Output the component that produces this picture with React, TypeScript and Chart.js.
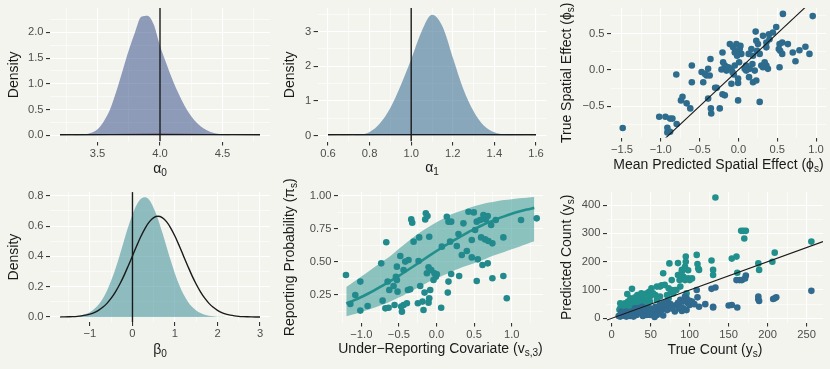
import React, { useEffect, useRef } from 'react';
import { Chart, registerables } from 'chart.js';

Chart.register(...registerables);

const BG = '#F4F4EF';
const FONT = '"Liberation Sans", Arial, Helvetica, sans-serif';
const TICK_TEXT = '#4D4D4D';
const TITLE_TEXT = '#1A1A1A';
const LINE_BLACK = '#1A1A1A';

// ---------- Panel 1: alpha_0 posterior density ----------
const alpha0Grid = [3.2, 3.25, 3.3, 3.35, 3.4, 3.45, 3.5, 3.55, 3.6, 3.65, 3.7, 3.75, 3.8, 3.85, 3.9, 3.95, 4.0, 4.05, 4.1, 4.15, 4.2, 4.25, 4.3, 4.35, 4.4, 4.45, 4.5, 4.55, 4.6, 4.65, 4.7, 4.75, 4.8];
const alpha0Posterior = [0, 0, 0.002, 0.005, 0.02, 0.05, 0.12, 0.27, 0.5, 0.85, 1.25, 1.65, 2.0, 2.3, 2.32, 2.15, 1.74, 1.4, 1.08, 0.8, 0.56, 0.37, 0.23, 0.13, 0.07, 0.035, 0.015, 0.006, 0.002, 0, 0, 0, 0];
const alpha0PriorX = [3.2, 3.6, 4.0, 4.4, 4.8];
const alpha0PriorY = [0.012, 0.014, 0.015, 0.014, 0.012];
const alpha0True = 4.0;
const p1XTicks = [3.5, 4.0, 4.5];
const p1XLabels = ['3.5', '4.0', '4.5'];
const p1XMinor = [3.25, 3.75, 4.25, 4.75];
const p1YTicks = [0, 0.5, 1, 1.5, 2];
const p1YLabels = ['0.0', '0.5', '1.0', '1.5', '2.0'];
const p1YMinor = [0.25, 0.75, 1.25, 1.75, 2.25];

// ---------- Panel 2: alpha_1 posterior density ----------
const alpha1Grid = [0.6, 0.65, 0.7, 0.75, 0.8, 0.85, 0.9, 0.95, 1.0, 1.05, 1.1, 1.15, 1.2, 1.25, 1.3, 1.35, 1.4, 1.45, 1.5, 1.55, 1.6];
const alpha1Posterior = [0, 0.001, 0.005, 0.02, 0.1, 0.35, 0.8, 1.45, 2.2, 3.0, 3.48, 3.15, 2.25, 1.35, 0.7, 0.28, 0.09, 0.025, 0.005, 0.001, 0];
const alpha1PriorX = [0.6, 0.85, 1.1, 1.35, 1.6];
const alpha1PriorY = [0.02, 0.022, 0.023, 0.022, 0.02];
const alpha1True = 1.0;
const p2XTicks = [0.6, 0.8, 1.0, 1.2, 1.4, 1.6];
const p2XLabels = ['0.6', '0.8', '1.0', '1.2', '1.4', '1.6'];
const p2XMinor = [0.7, 0.9, 1.1, 1.3, 1.5];
const p2YTicks = [0, 1, 2, 3];
const p2YLabels = ['0', '1', '2', '3'];
const p2YMinor = [0.5, 1.5, 2.5, 3.5];

// ---------- Panel 3: spatial effect scatter ----------
const phiPredicted = [-1.49, -1.02, -0.94, -0.88, -0.85, -0.915, -0.88, -0.915, -0.795, -0.8, -0.74, -0.72, -0.667, -0.62, -0.6, -0.6, -0.474, -0.453, -0.43, -0.41, -0.39, -0.37, -0.39, -0.36, -0.355, -0.35, -0.3, -0.28, -0.24, -0.205, -0.175, -0.205, -0.197, -0.218, -0.175, -0.154, -0.11, -0.09, -0.077, -0.06, -0.047, -0.068, -0.047, -0.026, -0.017, -0.004, -0.004, -0.004, 0.009, 0.017, 0.026, 0.038, -0.017, 0.1, 0.1, 0.137, 0.145, 0.132, 0.167, 0.188, 0.188, 0.21, 0.23, 0.222, 0.23, 0.24, 0.252, 0.274, 0.274, 0.295, 0.316, 0.316, 0.36, 0.36, 0.338, 0.36, 0.38, 0.393, 0.4, 0.444, 0.487, 0.52, 0.53, 0.538, 0.53, 0.564, 0.564, 0.573, 0.637, 0.7, 0.735, 0.786, 0.863, 0.915, 0.957, 0.18, 0.08, -0.09, -0.13];
const phiTrue = [-0.8, -0.645, -0.645, -0.67, -0.67, -0.795, -0.85, -0.86, -0.745, -0.064, -0.42, -0.37, -0.46, -0.53, 0.06, -0.17, -0.03, -0.17, -0.055, -0.077, 0.014, -0.077, -0.395, 0.15, -0.53, -0.6, -0.245, -0.245, -0.53, -0.336, -0.35, 0.24, 0.105, 0.005, 0.06, -0.01, 0.355, 0.014, -0.03, -0.064, 0.06, 0.31, 0.24, 0.355, 0.264, -0.12, -0.18, -0.42, 0.105, 0.286, 0.33, 0.22, 0.195, 0.06, -0.01, -0.1, 0.014, 0.22, 0.286, 0.195, -0.17, -0.01, -0.145, 0.527, 0.4, 0.264, 0.355, 0.22, -0.44, 0.06, 0.036, 0.468, 0.377, 0.31, 0.105, 0.06, 0.014, 0.49, 0.42, 0.514, 0.59, 0.286, 0.355, 0.264, 0.036, 0.377, 0.22, 0.77, 0.355, 0.24, 0.118, 0.27, 0.318, 0.22, 0.74, 0.08, 0.014, -0.19, 0.036];
const p3XTicks = [-1.5, -1.0, -0.5, 0, 0.5, 1.0];
const p3XLabels = ['\u22121.5', '\u22121.0', '\u22120.5', '0.0', '0.5', '1.0'];
const p3XMinor = [-1.25, -0.75, -0.25, 0.25, 0.75];
const p3YTicks = [-0.5, 0, 0.5];
const p3YLabels = ['\u22120.5', '0.0', '0.5'];
const p3YMinor = [-0.75, -0.25, 0.25, 0.75];

// ---------- Panel 4: beta_0 posterior and prior ----------
const beta0Grid = [-1.7, -1.6, -1.5, -1.4, -1.3, -1.2, -1.1, -1.0, -0.9, -0.8, -0.7, -0.6, -0.5, -0.4, -0.3, -0.2, -0.1, 0.0, 0.1, 0.2, 0.3, 0.4, 0.5, 0.6, 0.7, 0.8, 0.9, 1.0, 1.1, 1.2, 1.3, 1.4, 1.5, 1.6, 1.7, 1.8, 1.9, 2.0, 2.1, 2.2, 2.3, 2.4, 2.5, 2.6, 2.7, 2.8, 2.9, 3.0];
const beta0Posterior = [0.0004, 0.0008, 0.0016, 0.003, 0.006, 0.011, 0.019, 0.032, 0.052, 0.08, 0.12, 0.173, 0.24, 0.319, 0.408, 0.503, 0.595, 0.677, 0.741, 0.78, 0.79, 0.77, 0.718, 0.647, 0.559, 0.465, 0.372, 0.286, 0.211, 0.15, 0.103, 0.067, 0.043, 0.026, 0.015, 0.0085, 0.0046, 0.0024, 0.0012, 0.0005, 0.0002, 0, 0, 0, 0, 0, 0, 0];
const beta0Prior = [0.0004, 0.0008, 0.0015, 0.0026, 0.0044, 0.0074, 0.012, 0.019, 0.029, 0.044, 0.064, 0.09, 0.124, 0.166, 0.216, 0.273, 0.337, 0.403, 0.47, 0.533, 0.587, 0.629, 0.656, 0.665, 0.656, 0.629, 0.587, 0.533, 0.47, 0.403, 0.337, 0.273, 0.216, 0.166, 0.124, 0.09, 0.064, 0.044, 0.029, 0.019, 0.012, 0.0074, 0.0044, 0.0026, 0.0015, 0.0008, 0.0004, 0.0002];
const beta0True = 0;
const p4XTicks = [-1, 0, 1, 2, 3];
const p4XLabels = ['\u22121', '0', '1', '2', '3'];
const p4XMinor = [-1.5, -0.5, 0.5, 1.5, 2.5];
const p4YTicks = [0, 0.2, 0.4, 0.6, 0.8];
const p4YLabels = ['0.0', '0.2', '0.4', '0.6', '0.8'];
const p4YMinor = [0.1, 0.3, 0.5, 0.7];

// ---------- Panel 5: reporting probability ----------
const covGrid = [-1.2, -1.1, -1.0, -0.9, -0.8, -0.7, -0.6, -0.5, -0.4, -0.3, -0.2, -0.1, 0.0, 0.1, 0.2, 0.3, 0.4, 0.5, 0.6, 0.7, 0.8, 0.9, 1.0, 1.1, 1.2, 1.3];
const piMean = [0.185, 0.209, 0.235, 0.263, 0.294, 0.326, 0.36, 0.395, 0.432, 0.469, 0.507, 0.545, 0.582, 0.618, 0.653, 0.686, 0.718, 0.747, 0.775, 0.8, 0.823, 0.844, 0.863, 0.88, 0.895, 0.908];
const piLower = [0.09, 0.105, 0.12, 0.14, 0.16, 0.18, 0.205, 0.23, 0.26, 0.29, 0.32, 0.35, 0.375, 0.4, 0.425, 0.45, 0.47, 0.49, 0.51, 0.535, 0.555, 0.575, 0.595, 0.615, 0.635, 0.655];
const piUpper = [0.31, 0.35, 0.39, 0.43, 0.47, 0.51, 0.55, 0.6, 0.645, 0.69, 0.73, 0.765, 0.8, 0.83, 0.86, 0.88, 0.9, 0.92, 0.935, 0.948, 0.958, 0.967, 0.974, 0.98, 0.985, 0.99];
const covPoints = [-1.204, -1.146, -1.08, -1.013, -1.013, -0.916, -0.735, -0.717, -0.668, -0.68, -0.637, -0.65, -0.628, -0.558, -0.54, -0.527, -0.527, -0.518, -0.482, -0.469, -0.46, -0.438, -0.438, -0.416, -0.394, -0.38, -0.35, -0.336, -0.323, -0.305, -0.372, -0.248, -0.239, -0.23, -0.217, -0.173, -0.159, -0.15, -0.142, -0.12, -0.128, -0.106, -0.097, -0.097, -0.106, -0.084, -0.07, -0.04, -0.027, -0.009, 0.004, 0.071, 0.062, 0.137, 0.15, 0.159, 0.159, 0.195, 0.181, 0.195, 0.27, 0.292, 0.301, 0.358, 0.336, 0.403, 0.425, 0.469, 0.469, 0.496, 0.535, 0.513, 0.549, 0.535, 0.58, 0.593, 0.611, 0.624, 0.646, 0.655, 0.681, 0.69, 0.681, 0.726, 0.743, 0.743, 0.788, 0.889, 0.889, 0.934, 1.124, 1.332, -0.571, -0.186];
const piPoints = [0.401, 0.182, 0.25, 0.351, 0.132, 0.167, 0.489, 0.207, 0.648, 0.149, 0.154, 0.351, 0.288, 0.174, 0.388, 0.464, 0.363, 0.275, 0.544, 0.162, 0.124, 0.439, 0.174, 0.502, 0.187, 0.288, 0.293, 0.821, 0.796, 0.653, 0.514, 0.187, 0.507, 0.685, 0.318, 0.137, 0.268, 0.821, 0.867, 0.846, 0.414, 0.459, 0.69, 0.225, 0.192, 0.288, 0.439, 0.363, 0.414, 0.388, 0.406, 0.615, 0.154, 0.841, 0.268, 0.351, 0.804, 0.804, 0.653, 0.408, 0.62, 0.711, 0.393, 0.791, 0.552, 0.582, 0.879, 0.665, 0.534, 0.874, 0.804, 0.741, 0.519, 0.356, 0.816, 0.685, 0.476, 0.854, 0.67, 0.821, 0.846, 0.658, 0.489, 0.779, 0.64, 0.376, 0.816, 0.685, 0.393, 0.225, 0.816, 0.829, 0.318, 0.2];
const p5XTicks = [-1.0, -0.5, 0, 0.5, 1.0];
const p5XLabels = ['\u22121.0', '\u22120.5', '0.0', '0.5', '1.0'];
const p5XMinor = [-1.25, -0.75, -0.25, 0.25, 0.75, 1.25];
const p5YTicks = [0.25, 0.5, 0.75, 1.0];
const p5YLabels = ['0.25', '0.50', '0.75', '1.00'];
const p5YMinor = [0.125, 0.375, 0.625, 0.875];

// ---------- Panel 6: counts ----------
const trueCountA = [133, 166, 169, 172, 170, 256, 209, 206, 188, 189, 160, 154, 161, 128, 130, 130, 109, 110, 112, 95, 95, 85, 74, 90, 85, 77, 92, 94, 98, 100, 103, 66, 68, 58, 51, 48, 45, 41, 36, 33, 30, 26, 28, 24, 21, 17, 13, 11, 11, 15, 19, 26, 32, 39, 43, 49, 56, 62, 76, 81, 88, 79, 96, 49, 28, 34, 24, 45, 58, 73, 20, 64, 73, 77, 83, 87, 90, 94, 98, 111, 62, 53, 38, 30, 34, 43, 23, 10, 15, 71];
const predCountA = [427, 309, 309, 309, 282, 271, 232, 200, 194, 171, 218, 211, 161, 204, 171, 153, 224, 192, 171, 218, 200, 195, 194, 171, 153, 135, 147, 135, 141, 135, 141, 159, 118, 112, 106, 94, 88, 82, 77, 82, 74, 104, 65, 71, 59, 53, 47, 53, 35, 35, 41, 47, 53, 59, 65, 77, 82, 77, 94, 100, 112, 88, 88, 59, 41, 41, 29, 47, 65, 71, 86, 117, 106, 100, 100, 135, 165, 182, 170, 176, 112, 88, 88, 59, 65, 53, 47, 30, 45, 82];
const trueCountB = [256, 211, 209, 207, 188, 188, 189, 172, 171, 167, 164, 160, 154, 161, 130, 130, 133, 128, 112, 109, 110, 103, 100, 96, 92, 90, 96, 98, 88, 83, 86, 79, 75, 73, 68, 64, 62, 58, 53, 51, 47, 45, 41, 39, 36, 32, 28, 26, 24, 21, 19, 17, 14, 11, 9, 30, 34, 39, 43, 49, 56, 62, 66, 71, 92, 94, 34, 43, 49, 19, 28, 12, 58, 71, 81, 77, 85, 100, 106, 120, 88, 150, 40, 55, 66, 22];
const predCountB = [97, 74, 71, 68, 77, 67, 61, 151, 141, 135, 135, 135, 47, 38, 41, 38, 109, 104, 41, 100, 74, 59, 47, 29, 35, 26, 71, 53, 65, 47, 35, 44, 51, 35, 41, 29, 20, 29, 18, 24, 24, 12, 18, 29, 18, 12, 18, 24, 8, 18, 24, 8, 12, 6, 8, 35, 35, 41, 35, 35, 41, 47, 53, 59, 59, 77, 24, 20, 12, 6, 6, 24, 12, 29, 24, 35, 55, 62, 50, 50, 40, 45, 8, 5, 10, 12];
const p6XTicks = [0, 50, 100, 150, 200, 250];
const p6XLabels = ['0', '50', '100', '150', '200', '250'];
const p6XMinor = [25, 75, 125, 175, 225];
const p6YTicks = [0, 100, 200, 300, 400];
const p6YLabels = ['0', '100', '200', '300', '400'];
const p6YMinor = [50, 150, 250, 350];

// ---------- helpers ----------
type Seg = { t: string; sub?: boolean };
type AxisSpec = { min: number; max: number; majors: number[]; labels: string[]; minors: number[] };
type Box = { left: number; top: number; w: number; h: number };
type Area = { l: number; r: number; t: number; b: number };

const zip = (xs: number[], ys: number[]) => xs.map((x, i) => ({ x, y: ys[i] }));

function axis(kind: 'x' | 'y', a: AxisSpec, size: number) {
  const isMajor = (v: number) => a.majors.some((m) => Math.abs(m - v) < 1e-9);
  return {
    type: 'linear',
    position: kind === 'x' ? 'bottom' : 'left',
    min: a.min,
    max: a.max,
    afterBuildTicks: (s: any) => {
      s.ticks = [...a.majors, ...a.minors].sort((p, q) => p - q).map((v) => ({ value: v }));
    },
    afterFit: (s: any) => {
      if (kind === 'x') s.height = size;
      else s.width = size;
    },
    ticks: {
      autoSkip: false,
      maxRotation: 0,
      minRotation: 0,
      padding: 2.5,
      color: TICK_TEXT,
      font: { family: FONT, size: 11.2, lineHeight: 1 },
      callback: (v: number) => {
        const i = a.majors.findIndex((m) => Math.abs(m - v) < 1e-9);
        return i >= 0 ? a.labels[i] : '';
      },
    },
    grid: {
      drawOnChartArea: true,
      drawTicks: true,
      tickLength: 4,
      color: '#FFFFFF',
      lineWidth: (c: any) => (c.tick && isMajor(c.tick.value) ? 1.1 : 0.55),
      tickColor: (c: any) => (c.tick && isMajor(c.tick.value) ? '#333333' : 'rgba(0,0,0,0)'),
      tickWidth: 1.1,
    },
    border: { display: false },
    title: { display: false },
  };
}

function titlePlugin(xSegs: Seg[], xBaseline: number, ySegs: Seg[], yBaseline: number) {
  const size = 14;
  const draw = (ctx: CanvasRenderingContext2D, segs: Seg[], px: number, py: number, rotate: boolean) => {
    ctx.save();
    ctx.translate(px, py);
    if (rotate) ctx.rotate(-Math.PI / 2);
    ctx.textAlign = 'left';
    ctx.textBaseline = 'alphabetic';
    ctx.fillStyle = TITLE_TEXT;
    const widths = segs.map((s) => {
      ctx.font = `${s.sub ? size * 0.72 : size}px ${FONT}`;
      return ctx.measureText(s.t).width;
    });
    const total = widths.reduce((p, q) => p + q, 0);
    let x = -total / 2;
    segs.forEach((s, i) => {
      ctx.font = `${s.sub ? size * 0.72 : size}px ${FONT}`;
      ctx.fillText(s.t, x, s.sub ? size * 0.24 : 0);
      x += widths[i];
    });
    ctx.restore();
  };
  return {
    id: 'richTitles',
    afterDraw(chart: any) {
      const { ctx, chartArea } = chart;
      draw(ctx, xSegs, (chartArea.left + chartArea.right) / 2, xBaseline, false);
      draw(ctx, ySegs, yBaseline, (chartArea.top + chartArea.bottom) / 2, true);
    },
  };
}

type PanelSpec = {
  box: Box;
  area: Area;
  x: AxisSpec;
  y: AxisSpec;
  datasets: any[];
  xTitle: Seg[];
  xTitleBaseline: number;
  yTitle: Seg[];
  yTitleBaseline: number;
};

function buildConfig(p: PanelSpec) {
  const yWidth = p.area.l - p.box.left;
  const xHeight = p.box.top + p.box.h - p.area.b;
  return {
    type: 'scatter',
    data: { datasets: p.datasets },
    options: {
      animation: false,
      responsive: false,
      maintainAspectRatio: false,
      devicePixelRatio: 1,
      events: [],
      layout: {
        padding: {
          left: 0,
          bottom: 0,
          top: p.area.t - p.box.top,
          right: p.box.left + p.box.w - p.area.r,
        },
      },
      plugins: { legend: { display: false }, tooltip: { enabled: false } },
      scales: { x: axis('x', p.x, xHeight), y: axis('y', p.y, yWidth) },
    },
    plugins: [titlePlugin(p.xTitle, p.xTitleBaseline - p.box.top, p.yTitle, p.yTitleBaseline - p.box.left)],
  };
}

const lineDs = (data: any[], color: string, width: number, extra: any = {}) => ({
  type: 'line',
  data,
  borderColor: color,
  borderWidth: width,
  pointRadius: 0,
  fill: false,
  ...extra,
});
const pointDs = (data: any[], color: string) => ({
  type: 'scatter',
  data,
  backgroundColor: color,
  borderColor: color,
  borderWidth: 0,
  pointRadius: 3.3,
  showLine: false,
});
const densityDs = (data: any[], color: string) => ({
  type: 'line',
  data,
  backgroundColor: color,
  borderColor: 'rgba(0,0,0,0)',
  borderWidth: 0,
  pointRadius: 0,
  fill: 'origin',
  cubicInterpolationMode: 'monotone',
});

const p1x: AxisSpec = { min: 3.12, max: 4.88, majors: p1XTicks, labels: p1XLabels, minors: p1XMinor };
const p1y: AxisSpec = { min: -0.12, max: 2.47, majors: p1YTicks, labels: p1YLabels, minors: p1YMinor };
const p2x: AxisSpec = { min: 0.55, max: 1.65, majors: p2XTicks, labels: p2XLabels, minors: p2XMinor };
const p2y: AxisSpec = { min: -0.175, max: 3.675, majors: p2YTicks, labels: p2YLabels, minors: p2YMinor };
const p3x: AxisSpec = { min: -1.641, max: 1.128, majors: p3XTicks, labels: p3XLabels, minors: p3XMinor };
const p3y: AxisSpec = { min: -0.93, max: 0.85, majors: p3YTicks, labels: p3YLabels, minors: p3YMinor };
const p4x: AxisSpec = { min: -1.94, max: 3.235, majors: p4XTicks, labels: p4XLabels, minors: p4XMinor };
const p4y: AxisSpec = { min: -0.033, max: 0.824, majors: p4YTicks, labels: p4YLabels, minors: p4YMinor };
const p5x: AxisSpec = { min: -1.31, max: 1.416, majors: p5XTicks, labels: p5XLabels, minors: p5XMinor };
const p5y: AxisSpec = { min: 0.042, max: 1.028, majors: p5YTicks, labels: p5YLabels, minors: p5YMinor };
const p6x: AxisSpec = { min: -6.0, max: 270.9, majors: p6XTicks, labels: p6XLabels, minors: p6XMinor };
const p6y: AxisSpec = { min: -14.8, max: 445.9, majors: p6YTicks, labels: p6YLabels, minors: p6YMinor };

const DENSITY: Seg[] = [{ t: 'Density' }];

const panels: PanelSpec[] = [
  {
    box: { left: 0, top: 0, w: 277, h: 184 },
    area: { l: 50, r: 270, t: 7, b: 141.5 },
    x: p1x,
    y: p1y,
    datasets: [
      lineDs([{ x: alpha0True, y: p1y.min }, { x: alpha0True, y: p1y.max }], LINE_BLACK, 1.4),
      lineDs(zip(alpha0PriorX, alpha0PriorY), LINE_BLACK, 1.4),
      densityDs(zip(alpha0Grid, alpha0Posterior), 'rgba(59,82,139,0.55)'),
    ],
    xTitle: [{ t: '\u03B1' }, { t: '0', sub: true }],
    xTitleBaseline: 172.5,
    yTitle: DENSITY,
    yTitleBaseline: 17.5,
  },
  {
    box: { left: 277, top: 0, w: 276, h: 184 },
    area: { l: 317.6, r: 546.4, t: 7, b: 141.5 },
    x: p2x,
    y: p2y,
    datasets: [
      lineDs([{ x: alpha1True, y: p2y.min }, { x: alpha1True, y: p2y.max }], LINE_BLACK, 1.4),
      lineDs(zip(alpha1PriorX, alpha1PriorY), LINE_BLACK, 1.4),
      densityDs(zip(alpha1Grid, alpha1Posterior), 'rgba(49,104,142,0.55)'),
    ],
    xTitle: [{ t: '\u03B1' }, { t: '1', sub: true }],
    xTitleBaseline: 172,
    yTitle: DENSITY,
    yTitleBaseline: 294,
  },
  {
    box: { left: 553, top: 0, w: 277, h: 184 },
    area: { l: 611, r: 827, t: 7, b: 137.5 },
    x: p3x,
    y: p3y,
    datasets: [
      lineDs([{ x: p3x.min, y: p3x.min }, { x: p3x.max, y: p3x.max }], LINE_BLACK, 1.1),
      pointDs(zip(phiPredicted, phiTrue), '#2E6C8E'),
    ],
    xTitle: [{ t: 'Mean Predicted Spatial Effect (' }, { t: '\u03D5' }, { t: 's', sub: true }, { t: ')' }],
    xTitleBaseline: 168.5,
    yTitle: [{ t: 'True Spatial Effect (' }, { t: '\u03D5' }, { t: 's', sub: true }, { t: ')' }],
    yTitleBaseline: 570.7,
  },
  {
    box: { left: 0, top: 184, w: 277, h: 185 },
    area: { l: 50, r: 270, t: 192, b: 322 },
    x: p4x,
    y: p4y,
    datasets: [
      lineDs([{ x: beta0True, y: p4y.min }, { x: beta0True, y: p4y.max }], LINE_BLACK, 1.4),
      lineDs(zip(beta0Grid, beta0Prior), LINE_BLACK, 1.4, { cubicInterpolationMode: 'monotone' }),
      densityDs(zip(beta0Grid, beta0Posterior), 'rgba(38,130,142,0.5)'),
    ],
    xTitle: [{ t: '\u03B2' }, { t: '0', sub: true }],
    xTitleBaseline: 354,
    yTitle: DENSITY,
    yTitleBaseline: 18,
  },
  {
    box: { left: 277, top: 150, w: 276, h: 219 },
    area: { l: 338, r: 543, t: 192, b: 322.5 },
    x: p5x,
    y: p5y,
    datasets: [
      pointDs(zip(covPoints, piPoints), '#228A8D'),
      lineDs(zip(covGrid, piMean), '#21908C', 2.6, { cubicInterpolationMode: 'monotone' }),
      {
        type: 'line',
        data: zip(covGrid, piUpper),
        borderColor: 'rgba(0,0,0,0)',
        borderWidth: 0,
        pointRadius: 0,
        backgroundColor: 'rgba(33,144,140,0.5)',
        fill: '+1',
        cubicInterpolationMode: 'monotone',
      },
      {
        type: 'line',
        data: zip(covGrid, piLower),
        borderColor: 'rgba(0,0,0,0)',
        borderWidth: 0,
        pointRadius: 0,
        fill: false,
        cubicInterpolationMode: 'monotone',
      },
    ],
    xTitle: [{ t: 'Under\u2212Reporting Covariate (' }, { t: 'v' }, { t: 's,3', sub: true }, { t: ')' }],
    xTitleBaseline: 353,
    yTitle: [{ t: 'Reporting Probability (' }, { t: '\u03C0' }, { t: 's', sub: true }, { t: ')' }],
    yTitleBaseline: 294,
  },
  {
    box: { left: 553, top: 184, w: 277, h: 185 },
    area: { l: 607, r: 823, t: 192, b: 322.5 },
    x: p6x,
    y: p6y,
    datasets: [
      lineDs([{ x: p6x.min, y: p6x.min }, { x: p6x.max, y: p6x.max }], LINE_BLACK, 1.1),
      pointDs(zip(trueCountB, predCountB), '#306A8E'),
      pointDs(zip(trueCountA, predCountA), '#21908C'),
    ],
    xTitle: [{ t: 'True Count (' }, { t: 'y' }, { t: 's', sub: true }, { t: ')' }],
    xTitleBaseline: 354,
    yTitle: [{ t: 'Predicted Count (' }, { t: 'y' }, { t: 's', sub: true }, { t: ')' }],
    yTitleBaseline: 570.7,
  },
];

function Panel({ spec }: { spec: PanelSpec }) {
  const ref = useRef<HTMLCanvasElement | null>(null);
  useEffect(() => {
    if (!ref.current) return;
    const chart = new Chart(ref.current, buildConfig(spec) as any);
    return () => chart.destroy();
  }, [spec]);
  const { left, top, w, h } = spec.box;
  return (
    <div style={{ position: 'absolute', left, top, width: w, height: h }}>
      <canvas ref={ref} width={w} height={h} style={{ width: w, height: h, display: 'block' }} />
    </div>
  );
}

export default function App() {
  useEffect(() => {
    document.body.style.margin = '0';
    document.body.style.background = BG;
  }, []);
  return (
    <div style={{ position: 'fixed', left: 0, top: 0, width: 830, height: 369, background: BG, overflow: 'hidden' }}>
      {panels.map((p, i) => (
        <Panel key={i} spec={p} />
      ))}
    </div>
  );
}
